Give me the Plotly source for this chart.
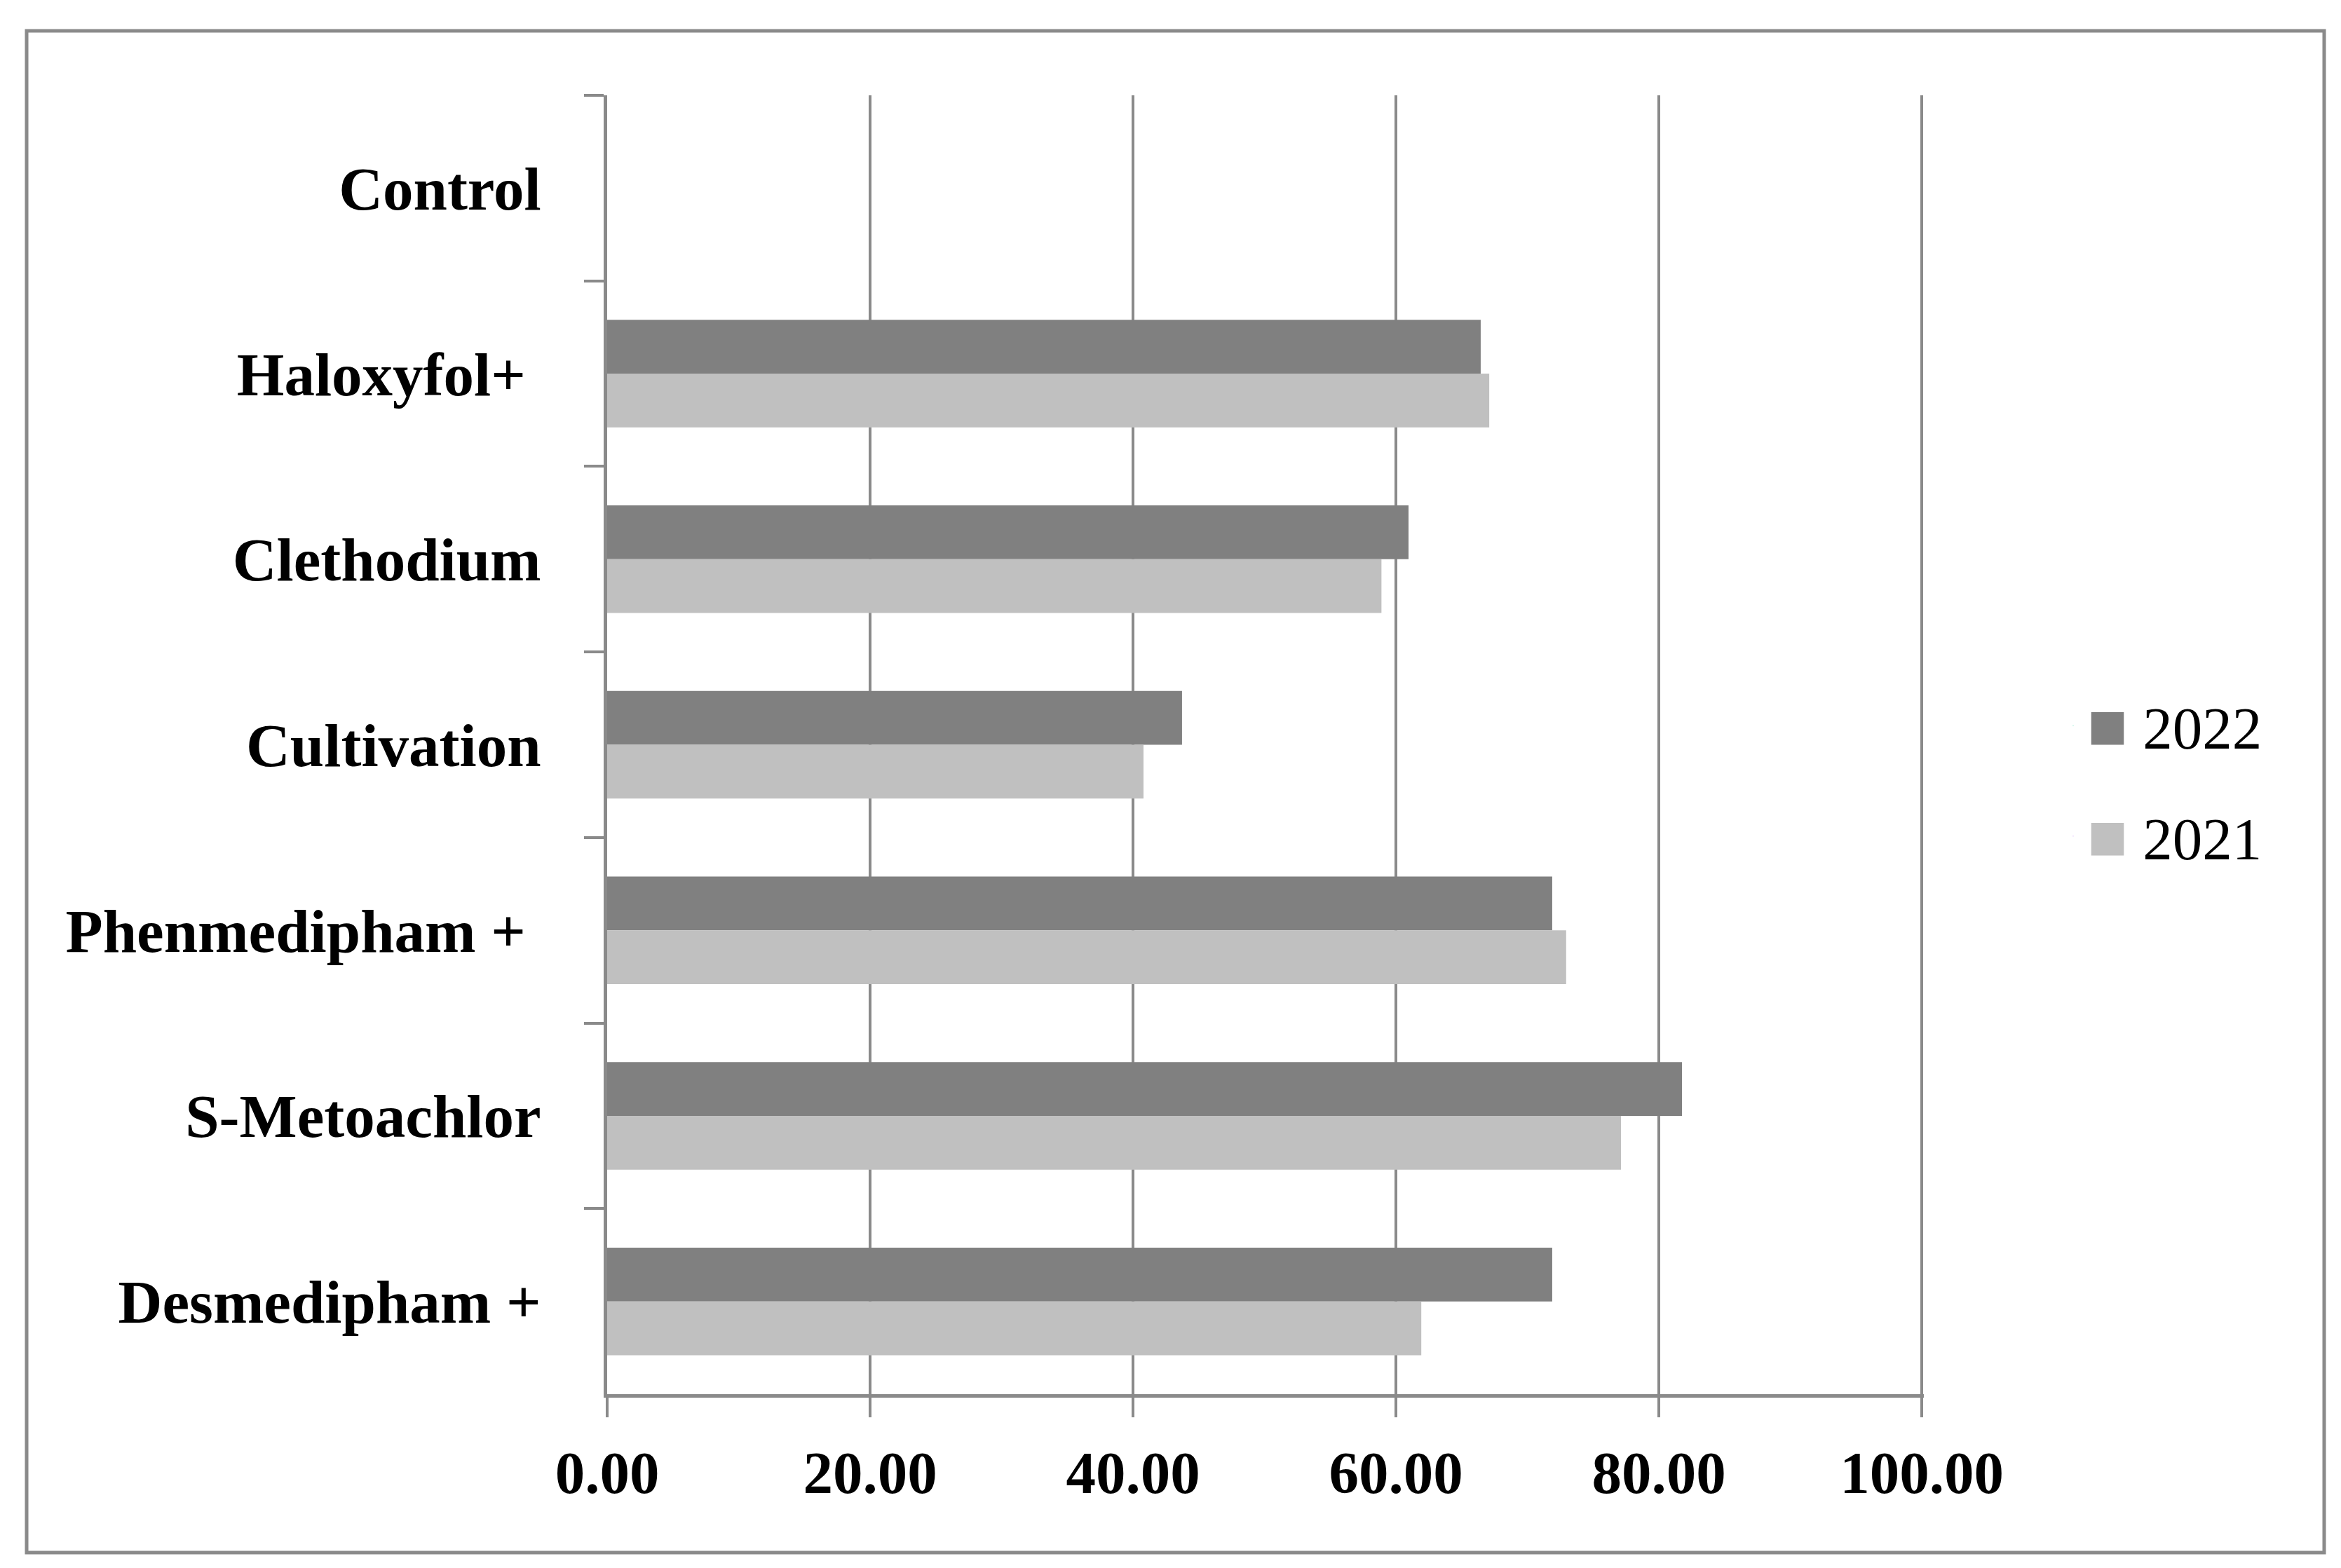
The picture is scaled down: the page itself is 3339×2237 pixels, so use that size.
import plotly.graph_objects as go

categories = ["Control", "Haloxyfol+\u00a0", "Clethodium", "Cultivation",
              "Phenmedipham +\u00a0", "S-Metoachlor", "Desmedipham +"]
values_2022 = [0, 66.45, 60.96, 43.73, 71.89, 81.76, 71.89]
values_2021 = [0, 67.10, 58.90, 40.80, 72.95, 77.12, 61.93]
series_names = ["2022", "2021"]
series_colors = ["#808080", "#c0c0c0"]
x_ticks = [0, 20, 40, 60, 80, 100]
x_tick_labels = ["0.00", "20.00", "40.00", "60.00", "80.00", "100.00"]

W, H = 3339, 2237
L, R, T, B = 858, 603, 128, 256
pw, ph = W - L - R, H - T - B

AX = "#8a8a8a"
FONT = "Liberation Serif"

fig = go.Figure()
for name, vals, col in zip(series_names, [values_2022, values_2021], series_colors):
    fig.add_trace(go.Bar(y=categories, x=vals, name=name, orientation="h",
                         marker=dict(color=col, line=dict(width=0)),
                         showlegend=False))

# legend entries with large square keys (Excel-style)
for name, col in zip(series_names, series_colors):
    fig.add_trace(go.Scatter(
        x=[None], y=[None], mode="markers", marker=dict(opacity=0, size=1),
        name=f'<span style="color:{col};font-size:96px">■</span> {name}',
        legendgroup=name, showlegend=True, hoverinfo="skip"))


def px_x(p):
    return (p - L) / pw


def px_y(p):
    return (H - B - p) / ph


fig.add_shape(type="rect", xref="paper", yref="paper",
              x0=px_x(30), x1=px_x(3307), y0=px_y(2207), y1=px_y(36),
              line=dict(color=AX, width=5), fillcolor="rgba(0,0,0,0)", layer="below")

fig.update_layout(
    width=W, height=H,
    margin=dict(l=L, r=R, t=T, b=B),
    paper_bgcolor="white", plot_bgcolor="white",
    barmode="group", bargap=0.42, bargroupgap=0,
    font=dict(family=FONT, color="black"),
    showlegend=True,
    legend=dict(x=px_x(2929), xanchor="left", y=px_y(1106), yanchor="middle",
                font=dict(family=FONT, size=85, color="black"),
                bgcolor="rgba(0,0,0,0)", tracegroupgap=44, itemwidth=30),
    xaxis=dict(range=[0, 100.16], tickvals=x_ticks, ticktext=x_tick_labels,
               showgrid=True, gridcolor=AX, gridwidth=4,
               showline=True, linecolor=AX, linewidth=5,
               ticks="outside", ticklen=28, tickwidth=4, tickcolor=AX,
               tickfont=dict(family=FONT, size=85, color="black", weight="bold"),
               ticklabelstandoff=6, zeroline=False),
    yaxis=dict(type="category", categoryorder="array", categoryarray=categories,
               autorange="reversed", showgrid=False,
               showline=True, linecolor=AX, linewidth=5,
               ticks="outside", ticklen=28, tickwidth=4, tickcolor=AX,
               tickson="boundaries",
               tickfont=dict(family=FONT, size=87, color="black", weight="bold"),
               ticklabelstandoff=72),
)

fig.write_html("out.html")
